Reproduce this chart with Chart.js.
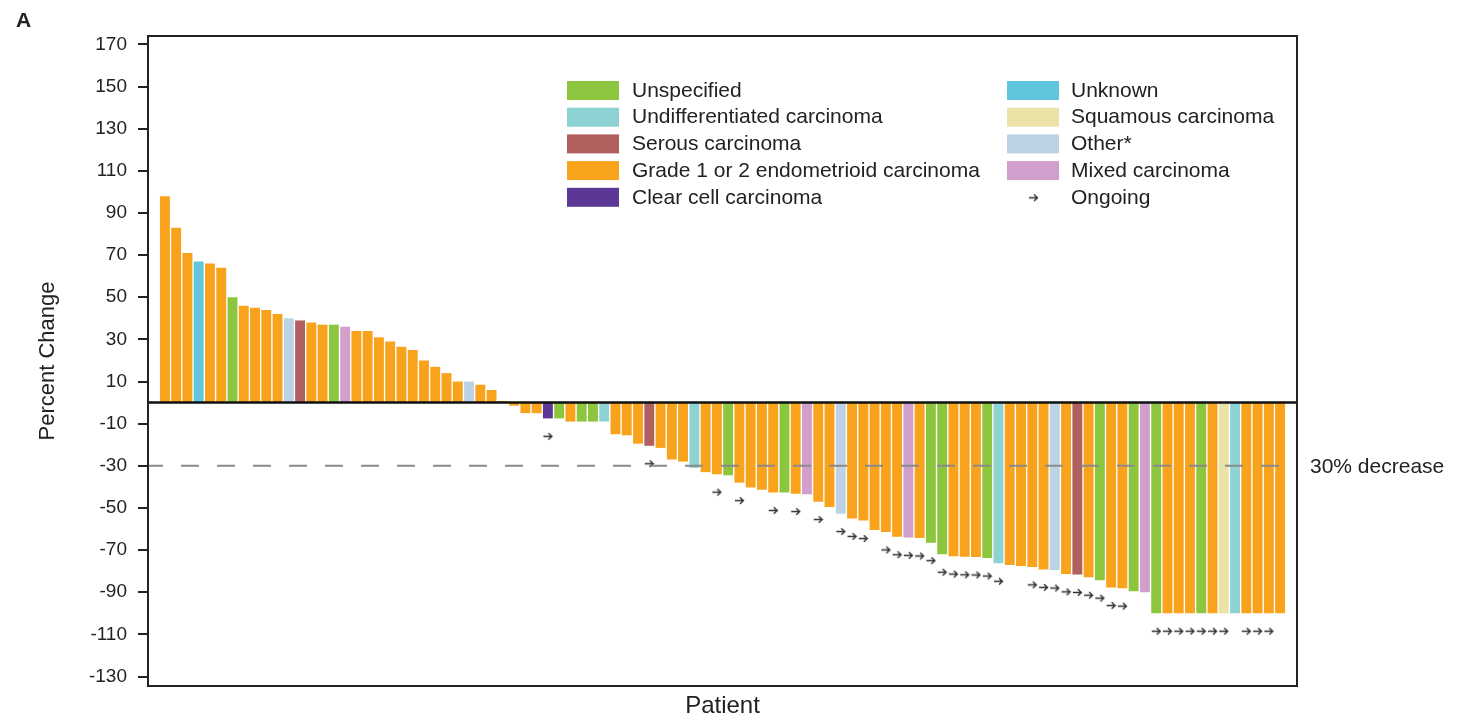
<!DOCTYPE html>
<html>
<head>
<meta charset="utf-8">
<script src="https://cdn.jsdelivr.net/npm/chart.js@4.4.1/dist/chart.umd.min.js"></script>
<style>
  html, body { margin: 0; padding: 0; background: #fff; }
  #wrap { width: 1471px; height: 718px; }
</style>
</head>
<body>
<div id="wrap"><canvas id="chart"></canvas></div>
<script>
// best percent change per patient, sorted
const values = [
  98, 83, 71, 67, 66, 64, 50, 46, 45, 44,
  42, 40, 39, 38, 37, 37, 36, 34, 34, 31,
  29, 26.5, 25, 20, 17, 14, 10, 10, 8.5, 6,
  0.8, -1.5, -5, -5, -7.5, -7.5, -9, -9, -9, -9,
  -15, -15.5, -19.5, -20.5, -21.5, -27, -28, -31, -33, -34,
  -34.5, -38, -40.3, -41.3, -42.7, -42.7, -43.2, -43.5, -47, -49.5,
  -52.7, -55, -56, -60.5, -61.4, -63.7, -64, -64.3, -66.5, -72,
  -72.9, -73.2, -73.3, -73.8, -76.3, -77.1, -77.5, -78, -79.2, -79.5,
  -81.3, -81.6, -82.9, -84.3, -87.8, -88.1, -89.5, -90, -100, -100,
  -100, -100, -100, -100, -100, -100, -100, -100, -100, -100
];

// histology per patient
// G=unspecified U=undifferentiated S=serous O=grade 1/2 C=clear cell
// K=unknown Q=squamous T=other M=mixed
const types = [
  'O','O','O','K','O','O','G','O','O','O',
  'O','T','S','O','O','G','M','O','O','O',
  'O','O','O','O','O','O','O','T','O','O',
  'O','O','O','O','C','G','O','G','G','U',
  'O','O','O','S','O','O','O','U','O','O',
  'G','O','O','O','O','G','O','M','O','O',
  'T','O','O','O','O','O','M','O','G','G',
  'O','O','O','G','U','O','O','O','O','T',
  'O','S','O','G','O','O','G','M','G','O',
  'O','O','G','O','Q','U','O','O','O','O'
];

// 1 = treatment ongoing
const ongoing = [
  0,0,0,0,0,0,0,0,0,0,
  0,0,0,0,0,0,0,0,0,0,
  0,0,0,0,0,0,0,0,0,0,
  0,0,0,0,1,0,0,0,0,0,
  0,0,0,1,0,0,0,0,0,1,
  0,1,0,0,1,0,1,0,1,0,
  1,1,1,0,1,1,1,1,1,1,
  1,1,1,1,1,0,0,1,1,1,
  1,1,1,1,1,1,0,0,1,1,
  1,1,1,1,1,0,1,1,1,0
];

const yTicks = [170, 150, 130, 110, 90, 70, 50, 30, 10, -10, -30, -50, -70, -90, -110, -130];
const threshold = -30;

const legendLeft = ['G', 'U', 'S', 'O', 'C'];
const legendRight = ['K', 'Q', 'T', 'M'];
const typeNames = {
  G: 'Unspecified', U: 'Undifferentiated carcinoma', S: 'Serous carcinoma',
  O: 'Grade 1 or 2 endometrioid carcinoma', C: 'Clear cell carcinoma',
  K: 'Unknown', Q: 'Squamous carcinoma', T: 'Other*', M: 'Mixed carcinoma'
};
const typeColors = {
  G: '#8cc63e', U: '#8dd3d4', S: '#b0605f', O: '#f9a21c', C: '#5c3896',
  K: '#5fc6dc', Q: '#ebe2a8', T: '#bcd2e5', M: '#d29fcd'
};

const FONT = "'Liberation Sans', Arial, sans-serif";
const INK = '#222';

// small arrow marker for ongoing patients
function makeArrow() {
  const c = document.createElement('canvas');
  c.width = 11; c.height = 9;
  const g = c.getContext('2d');
  g.strokeStyle = '#333';
  g.lineWidth = 1.4;
  g.beginPath();
  g.moveTo(1, 4.5); g.lineTo(9.5, 4.5);
  g.moveTo(6, 1.2); g.lineTo(9.5, 4.5); g.lineTo(6, 7.8);
  g.stroke();
  return c;
}
const arrowImg = makeArrow();

const decor = {
  id: 'decor',
  afterDatasetsDraw(chart) {
    const { ctx, chartArea: a, scales } = chart;
    const y = scales.y;
    ctx.save();
    // zero line
    ctx.strokeStyle = '#111';
    ctx.lineWidth = 2.5;
    ctx.beginPath();
    ctx.moveTo(a.left, y.getPixelForValue(0));
    ctx.lineTo(a.right, y.getPixelForValue(0));
    ctx.stroke();
    // 30% decrease line
    const yt = y.getPixelForValue(threshold);
    ctx.strokeStyle = '#8a8a8a';
    ctx.lineWidth = 2;
    ctx.setLineDash([18, 18]);
    ctx.lineDashOffset = 3;
    ctx.beginPath();
    ctx.moveTo(a.left, yt);
    ctx.lineTo(a.right, yt);
    ctx.stroke();
    ctx.setLineDash([]);
    ctx.fillStyle = INK;
    ctx.font = '21px ' + FONT;
    ctx.textBaseline = 'middle';
    ctx.textAlign = 'left';
    ctx.fillText('30% decrease', a.right + 13, yt + 1);
    // frame
    ctx.strokeStyle = INK;
    ctx.lineWidth = 2;
    ctx.strokeRect(a.left, a.top, a.right - a.left, a.bottom - a.top);
    // legend
    ctx.font = '21px ' + FONT;
    const rowH = 26.7;
    legendLeft.forEach((k, i) => {
      const top = 81 + i * rowH;
      ctx.fillStyle = typeColors[k];
      ctx.fillRect(567, top, 52, 19);
      ctx.fillStyle = INK;
      ctx.fillText(typeNames[k], 632, top + 10);
    });
    legendRight.forEach((k, i) => {
      const top = 81 + i * rowH;
      ctx.fillStyle = typeColors[k];
      ctx.fillRect(1007, top, 52, 19);
      ctx.fillStyle = INK;
      ctx.fillText(typeNames[k], 1071, top + 10);
    });
    const oy = 81 + 4 * rowH + 10;
    ctx.drawImage(arrowImg, 1028, oy - 4.5);
    ctx.fillText('Ongoing', 1071, oy);
    // panel letter
    ctx.font = 'bold 21px ' + FONT;
    ctx.fillText('A', 16, 21);
    ctx.restore();
  }
};

new Chart(document.getElementById('chart'), {
  data: {
    datasets: [
      {
        type: 'scatter',
        data: values.map((v, i) => ongoing[i] ? { x: i + 1, y: v - 8.5 } : null).filter(Boolean),
        pointStyle: arrowImg,
        order: 0
      },
      {
        type: 'bar',
        data: values.map((v, i) => ({ x: i + 1, y: v })),
        backgroundColor: types.map(t => typeColors[t]),
        borderWidth: 0,
        barPercentage: 0.88,
        categoryPercentage: 1,
        order: 1
      }
    ]
  },
  options: {
    responsive: true,
    maintainAspectRatio: false,
    animation: false,
    layout: { padding: { left: 35, right: 174, top: 36, bottom: 0 } },
    plugins: { legend: { display: false }, tooltip: { enabled: false } },
    scales: {
      x: {
        type: 'linear',
        min: -0.5,
        max: 101.5,
        offset: false,
        ticks: { display: false },
        grid: { display: false },
        border: { display: false },
        title: { display: true, text: 'Patient', color: INK, font: { family: FONT, size: 24, lineHeight: 1 }, padding: 0 },
        afterFit(s) { s.height = 32; }
      },
      y: {
        min: -134.5,
        max: 174,
        afterBuildTicks(s) { s.ticks = yTicks.map(v => ({ value: v })); },
        ticks: { color: INK, font: { family: FONT, size: 19 }, padding: 11 },
        grid: { drawOnChartArea: false, drawTicks: true, tickLength: 10, color: INK, lineWidth: 2 },
        border: { display: true, color: INK, width: 2 },
        title: { display: true, text: 'Percent Change', color: INK, font: { family: FONT, size: 22 }, padding: 0 },
        afterFit(s) { s.width = 113; }
      }
    }
  },
  plugins: [decor]
});
</script>
</body>
</html>
